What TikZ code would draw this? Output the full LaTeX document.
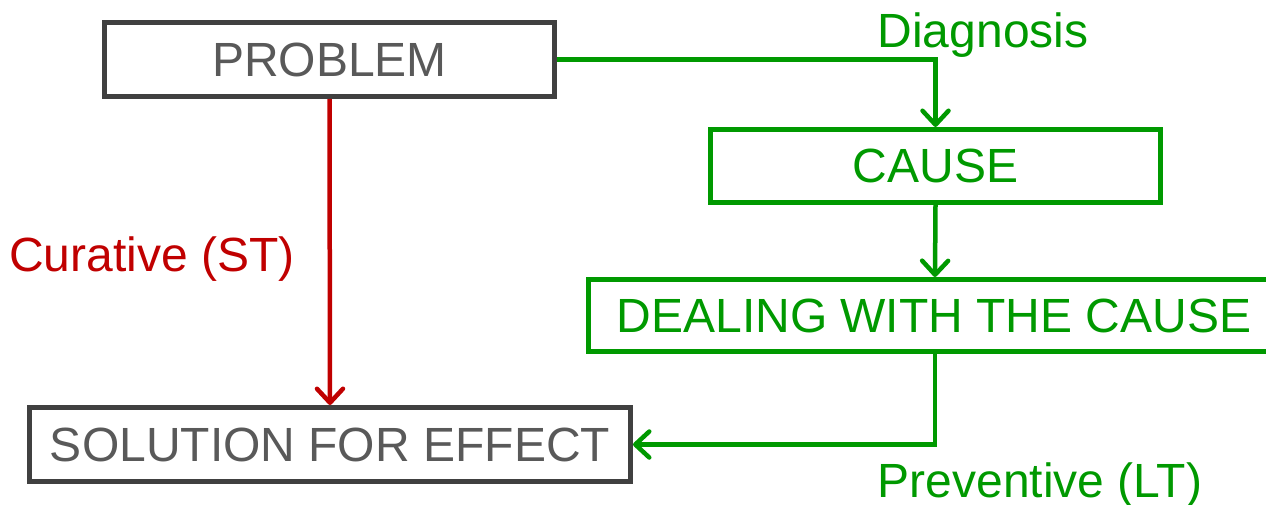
\documentclass[tikz,border=0pt]{standalone}
\usepackage{fontspec}
\setmainfont{Liberation Sans}
\usetikzlibrary{arrows.meta}
\definecolor{boxgray}{RGB}{64,64,64}
\definecolor{textgray}{RGB}{89,89,89}
\definecolor{flowgreen}{RGB}{0,153,0}
\definecolor{flowred}{RGB}{192,0,0}
\tikzset{
  box/.style={draw, line width=5pt, rectangle, inner sep=0pt, anchor=center,
    font=\fontsize{48}{57}\selectfont},
  graybox/.style={box, draw=boxgray, text=textgray},
  greenbox/.style={box, draw=flowgreen, text=flowgreen},
  link/.style={line width=4.5pt, -{Straight Barb[length=14pt, width=26pt, line cap=round, line join=round]}},
  greenlink/.style={link, draw=flowgreen},
  redlink/.style={link, draw=flowred},
  lbl/.style={anchor=base, inner sep=0pt, font=\fontsize{48}{57}\selectfont}
}
\begin{document}
\begin{tikzpicture}[x=1pt, y=-1pt]
\useasboundingbox (0,0) rectangle (1266,505);
\node[graybox, minimum width=450pt, minimum height=74pt] (problem) at (329.5,59.5) {PROBLEM};
\node[greenbox, minimum width=450pt, minimum height=73pt] (cause) at (935.5,166) {CAUSE};
\node[greenbox, minimum width=694pt, minimum height=72pt] (deal) at (935,315.5) {};
\node[lbl, text=flowgreen, anchor=center] (dealtext) at (934,315.5) {DEALING WITH THE CAUSE};
\node[graybox, minimum width=601pt, minimum height=74pt] (solution) at (330,444.5) {SOLUTION FOR EFFECT};

\draw[greenlink] (problem.east) -| (cause.north);
\draw[greenlink] (cause.south) -- (deal.north);
\draw[greenlink] (deal.south) |- (solution.east);
\draw[redlink] (problem.south) -- (solution.north);

\node[lbl, text=flowgreen] (diag) at (983,48) {Diagnosis};
\node[lbl, text=flowred] (cur) at (152,271) {Curative (ST)};
\node[lbl, text=flowgreen] (prev) at (1040,497) {Preventive (LT)};
\end{tikzpicture}
\end{document}
